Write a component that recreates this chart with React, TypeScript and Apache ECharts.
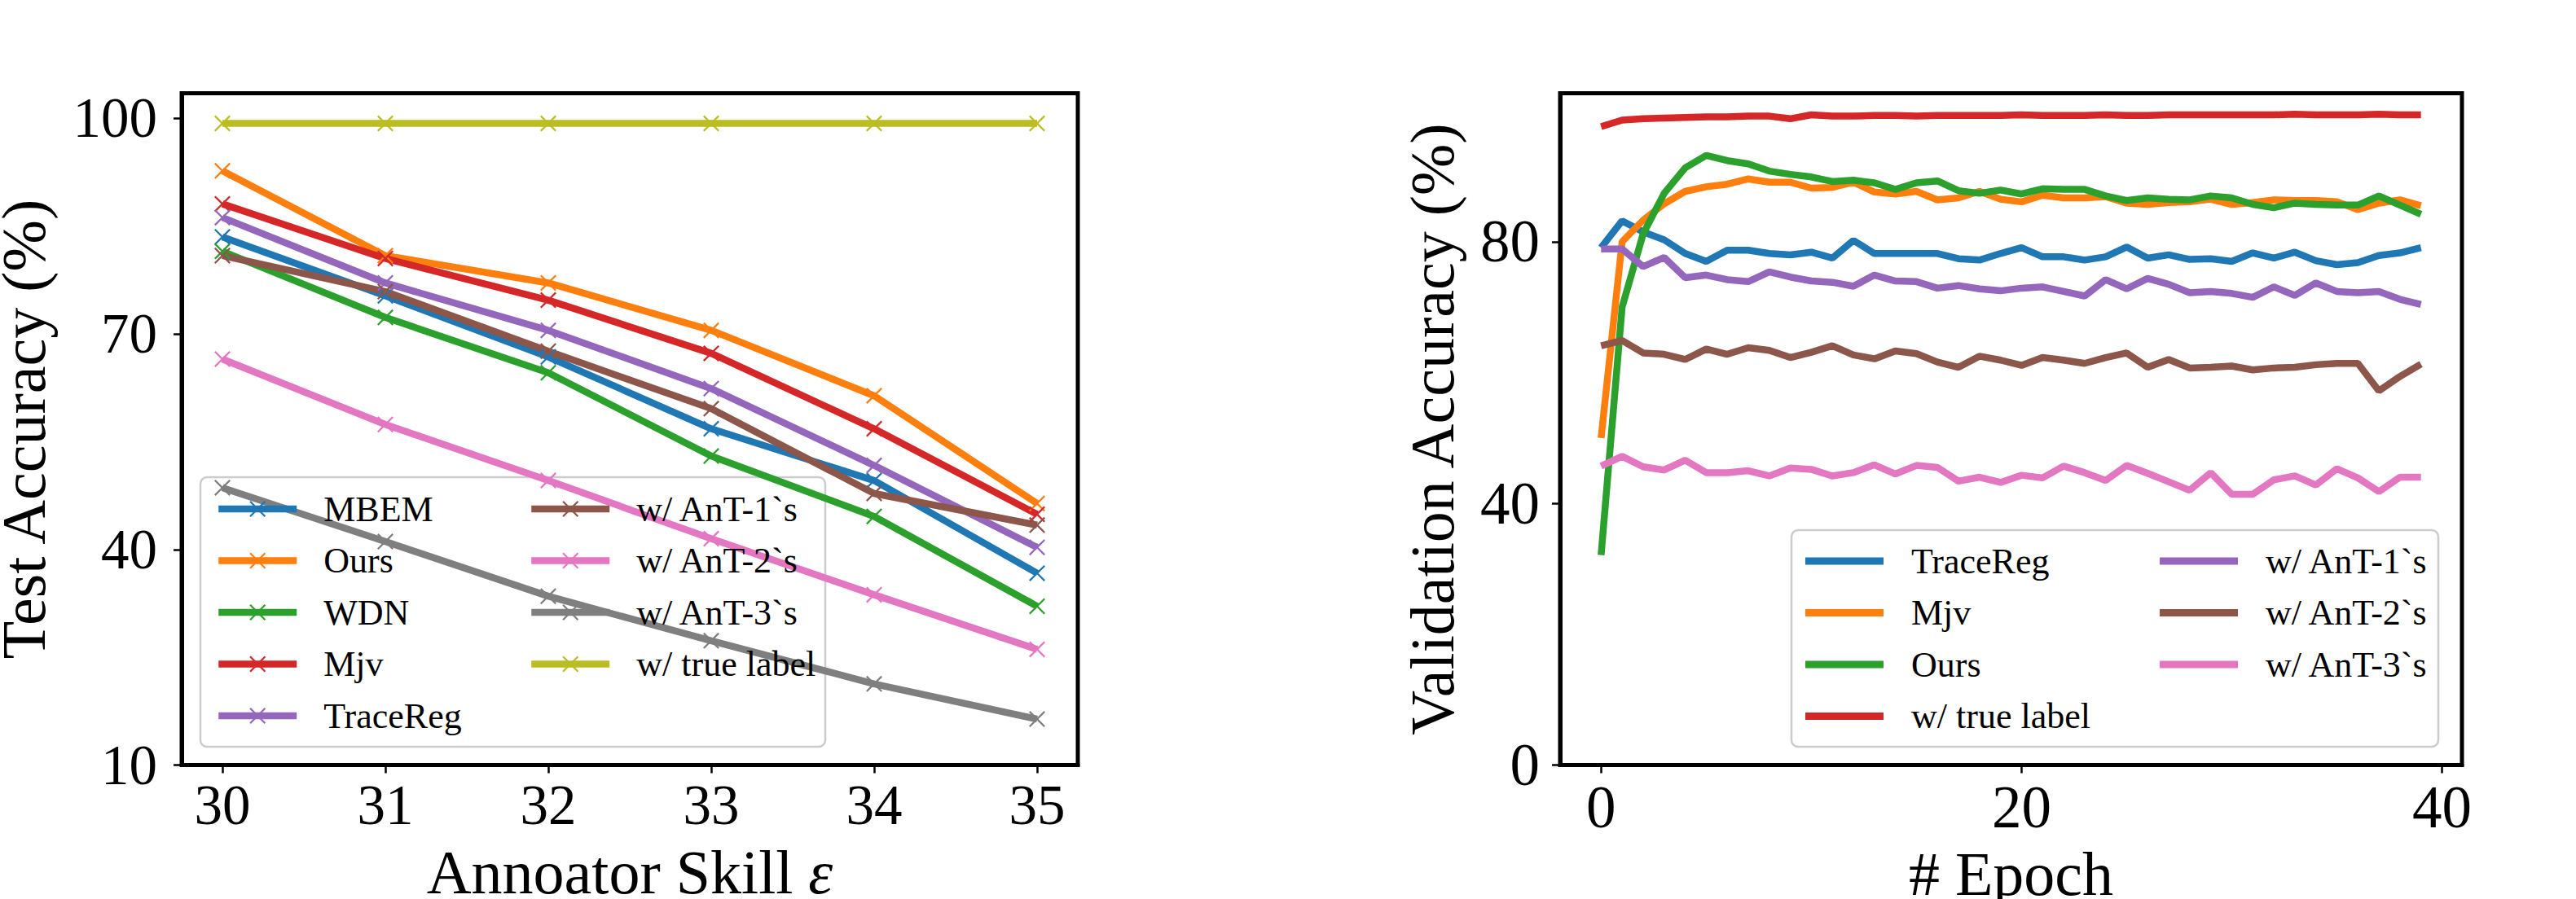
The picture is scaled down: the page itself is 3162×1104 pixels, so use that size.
import React, { useEffect, useRef } from "react";
import * as echarts from "echarts";

const FONT = "Liberation Serif";

// ---------- Left panel: Test accuracy vs annotator skill ----------
const skills = [30, 31, 32, 33, 34, 35];
const leftXTicks = [30, 31, 32, 33, 34, 35];
const leftYTicks = [10, 40, 70, 100];

const mbemL = [83.5, 75.3, 66.8, 56.8, 49.6, 36.7];
const oursL = [92.7, 80.9, 77.1, 70.5, 61.4, 46.4];
const wdnL = [81.5, 72.3, 64.6, 53.0, 44.6, 32.1];
const mjvL = [88.1, 80.5, 74.7, 67.3, 56.8, 44.9];
const traceRegL = [86.2, 77.1, 70.5, 62.4, 51.7, 40.3];
const ant1L = [80.9, 75.9, 67.6, 59.6, 47.8, 43.4];
const ant2L = [66.5, 57.4, 49.6, 41.5, 33.7, 26.1];
const ant3L = [48.6, 41.1, 33.5, 27.3, 21.3, 16.4];
const trueL = [99.3, 99.3, 99.3, 99.3, 99.3, 99.3];

// ---------- Right panel: Validation accuracy vs epoch ----------
const epochs = Array.from({ length: 40 }, (_, i) => i);
const rightXTicks = [0, 20, 40];
const rightYTicks = [0, 40, 80];

const traceRegR = [79.1, 83.2, 81.5, 80.3, 78.2, 77.0, 78.7, 78.7, 78.2, 78.0, 78.4, 77.5, 80.2, 78.2, 78.2, 78.2, 78.2, 77.4, 77.2, 78.2, 79.1, 77.7, 77.7, 77.2, 77.7, 79.2, 77.5, 78.0, 77.3, 77.4, 77.0, 78.3, 77.5, 78.4, 77.1, 76.5, 76.8, 77.9, 78.3, 79.1];
const mjvR = [50.0, 80.0, 83.3, 85.8, 87.7, 88.4, 88.8, 89.6, 89.1, 89.1, 88.2, 88.3, 89.1, 87.6, 87.3, 87.7, 86.4, 86.7, 87.7, 86.5, 86.1, 87.1, 86.7, 86.7, 86.9, 85.9, 85.7, 86.0, 86.1, 86.5, 85.7, 86.0, 86.4, 86.3, 86.3, 86.1, 84.9, 85.9, 86.4, 85.5];
const oursR = [32.1, 70.0, 81.2, 87.4, 91.3, 93.2, 92.4, 91.9, 90.8, 90.3, 89.9, 89.2, 89.4, 89.0, 88.0, 89.0, 89.3, 87.8, 87.4, 87.9, 87.3, 88.1, 88.0, 88.0, 87.0, 86.3, 86.7, 86.5, 86.4, 87.0, 86.7, 85.7, 85.2, 85.9, 85.7, 85.6, 85.6, 87.0, 85.6, 84.2];
const trueR = [97.6, 98.6, 98.8, 98.9, 99.0, 99.1, 99.1, 99.2, 99.2, 98.8, 99.4, 99.2, 99.2, 99.3, 99.3, 99.2, 99.3, 99.3, 99.3, 99.3, 99.4, 99.3, 99.3, 99.3, 99.4, 99.3, 99.3, 99.4, 99.4, 99.4, 99.4, 99.4, 99.4, 99.5, 99.4, 99.4, 99.4, 99.5, 99.4, 99.4];
const ant1R = [78.9, 78.9, 76.2, 77.6, 74.5, 74.9, 74.2, 73.9, 75.4, 74.6, 74.0, 73.8, 73.2, 74.9, 74.0, 73.9, 72.9, 73.3, 72.8, 72.5, 72.9, 73.1, 72.4, 71.7, 74.2, 72.8, 74.4, 73.5, 72.2, 72.4, 72.1, 71.5, 73.1, 71.8, 73.7, 72.4, 72.2, 72.4, 71.2, 70.4];
const ant2R = [64.1, 64.9, 63.0, 62.8, 62.0, 63.6, 62.8, 63.8, 63.4, 62.3, 63.1, 64.1, 62.7, 62.1, 63.3, 62.9, 61.6, 60.8, 62.5, 61.9, 61.1, 62.3, 61.9, 61.4, 62.3, 63.0, 60.8, 62.0, 60.7, 60.8, 61.0, 60.4, 60.7, 60.8, 61.2, 61.4, 61.4, 57.2, 59.4, 61.3];
const ant3R = [45.7, 47.2, 45.6, 45.1, 46.6, 44.7, 44.7, 45.0, 44.2, 45.4, 45.2, 44.2, 44.7, 45.9, 44.5, 45.8, 45.5, 43.4, 44.0, 43.2, 44.3, 43.9, 45.7, 44.7, 43.5, 45.8, 44.6, 43.3, 42.0, 44.7, 41.4, 41.4, 43.6, 44.2, 42.8, 45.3, 43.9, 41.8, 44.0, 44.0];

const C = {
  blue: "#1f77b4",
  orange: "#ff7f0e",
  green: "#2ca02c",
  red: "#d62728",
  purple: "#9467bd",
  brown: "#8c564b",
  pink: "#e377c2",
  gray: "#7f7f7f",
  olive: "#bcbd22",
};

const X_MARK =
  "path://M0,0.8L0.8,0L5,4.2L9.2,0L10,0.8L5.8,5L10,9.2L9.2,10L5,5.8L0.8,10L0,9.2L4.2,5Z";

const LW = 8.5;

const leftSeries = [
  { name: "MBEM", color: C.blue, values: mbemL },
  { name: "Ours", color: C.orange, values: oursL },
  { name: "WDN", color: C.green, values: wdnL },
  { name: "Mjv", color: C.red, values: mjvL },
  { name: "TraceReg", color: C.purple, values: traceRegL },
  { name: "w/ AnT-1`s", color: C.brown, values: ant1L },
  { name: "w/ AnT-2`s", color: C.pink, values: ant2L },
  { name: "w/ AnT-3`s", color: C.gray, values: ant3L },
  { name: "w/ true label", color: C.olive, values: trueL },
];

const rightSeries = [
  { name: "TraceReg", color: C.blue, values: traceRegR },
  { name: "Mjv", color: C.orange, values: mjvR },
  { name: "Ours", color: C.green, values: oursR },
  { name: "w/ true label", color: C.red, values: trueR },
  { name: "w/ AnT-1`s", color: C.purple, values: ant1R },
  { name: "w/ AnT-2`s", color: C.brown, values: ant2R },
  { name: "w/ AnT-3`s", color: C.pink, values: ant3R },
];

function axisCommon(ticks: number[], fontSize: number, margin: number) {
  return {
    axisLine: { show: true, onZero: false, lineStyle: { color: "#000", width: 5 } },
    axisTick: {
      show: true,
      length: 10,
      customValues: ticks,
      lineStyle: { color: "#000", width: 2.5 },
    },
    axisLabel: {
      customValues: ticks,
      fontSize,
      fontFamily: FONT,
      color: "#000",
      margin,
    },
    splitLine: { show: false },
  };
}

const nameStyle = {
  fontSize: 76,
  fontFamily: FONT,
  color: "#000",
  rich: {
    e: { fontSize: 76, fontFamily: FONT, fontStyle: "italic", color: "#000" },
  },
};

const legendText = {
  fontFamily: FONT,
  fontSize: 44,
  lineHeight: 44,
  color: "#000",
};

function leftLegend(items: typeof leftSeries, left: number) {
  return {
    orient: "vertical",
    left,
    top: 598,
    itemWidth: 96,
    itemHeight: 25,
    itemGap: 19.5,
    selectedMode: false,
    textStyle: { ...legendText, padding: [0, 0, 0, 28] },
    lineStyle: { width: LW },
    data: items.map((s) => ({
      name: s.name,
      textStyle: { ...legendText, padding: [0, 0, 0, 28] },
      itemStyle: { color: s.color, borderWidth: 0 },
      lineStyle: { color: s.color, width: LW },
    })),
  };
}

function rightLegend(items: typeof rightSeries, left: number) {
  return {
    orient: "vertical",
    left,
    top: 662,
    icon: "rect",
    itemWidth: 96,
    itemHeight: 9,
    itemGap: 19.5,
    selectedMode: false,
    textStyle: { ...legendText, padding: [0, 0, 0, 29] },
    data: items.map((s) => ({
      name: s.name,
      textStyle: { ...legendText, padding: [0, 0, 0, 29] },
      itemStyle: { color: s.color, borderWidth: 0 },
    })),
  };
}

const option = {
  animation: false,
  backgroundColor: "#fff",
  textStyle: { fontFamily: FONT, color: "#000" },
  grid: [
    {
      left: 223,
      top: 114.5,
      width: 1100,
      height: 825,
      show: true,
      borderColor: "#000",
      borderWidth: 5,
      backgroundColor: "transparent",
      outerBoundsMode: "none",
      containLabel: false,
    },
    {
      left: 1915,
      top: 114.5,
      width: 1107,
      height: 825,
      show: true,
      borderColor: "#000",
      borderWidth: 5,
      backgroundColor: "transparent",
      outerBoundsMode: "none",
      containLabel: false,
    },
  ],
  xAxis: [
    {
      type: "value",
      gridIndex: 0,
      min: 29.75,
      max: 35.25,
      ...axisCommon(leftXTicks, 69, 15),
      name: "Annoator Skill {e|ε}",
      nameLocation: "middle",
      nameGap: 93,
      nameTextStyle: nameStyle,
    },
    {
      type: "value",
      gridIndex: 1,
      min: -1.95,
      max: 40.95,
      ...axisCommon(rightXTicks, 73, 15),
      name: "# Epoch",
      nameLocation: "middle",
      nameGap: 95,
      nameTextStyle: nameStyle,
    },
  ],
  yAxis: [
    {
      type: "value",
      gridIndex: 0,
      min: 10,
      max: 103.5,
      ...axisCommon(leftYTicks, 69, 30),
      name: "Test Accuracy (%)",
      nameLocation: "middle",
      nameGap: 156,
      nameTextStyle: nameStyle,
    },
    {
      type: "value",
      gridIndex: 1,
      min: 0,
      max: 102.7,
      ...axisCommon(rightYTicks, 73, 25),
      name: "Validation Accuracy (%)",
      nameLocation: "middle",
      nameGap: 119,
      nameTextStyle: nameStyle,
    },
  ],
  legend: [
    leftLegend(leftSeries.slice(0, 5), 259),
    leftLegend(leftSeries.slice(5), 643),
    rightLegend(rightSeries.slice(0, 4), 2211),
    rightLegend(rightSeries.slice(4), 2646),
  ],
  graphic: [
    {
      type: "rect",
      z: 3,
      shape: { x: 246, y: 586, width: 767, height: 331, r: 8 },
      style: { fill: "rgba(255,255,255,0.8)", stroke: "#cccccc", lineWidth: 2.5 },
    },
    {
      type: "rect",
      z: 3,
      shape: { x: 2199, y: 651, width: 794, height: 266, r: 8 },
      style: { fill: "rgba(255,255,255,0.8)", stroke: "#cccccc", lineWidth: 2.5 },
    },
  ],
  series: [
    ...leftSeries.map((s) => ({
      name: s.name,
      type: "line",
      xAxisIndex: 0,
      yAxisIndex: 0,
      data: skills.map((x, i) => [x, s.values[i]]),
      symbol: X_MARK,
      symbolSize: 20,
      showSymbol: true,
      color: s.color,
      itemStyle: { color: s.color, borderWidth: 0 },
      lineStyle: { color: s.color, width: LW },
      emphasis: { disabled: true },
    })),
    ...rightSeries.map((s) => ({
      name: s.name,
      type: "line",
      xAxisIndex: 1,
      yAxisIndex: 1,
      data: epochs.map((x, i) => [x, s.values[i]]),
      symbol: "none",
      showSymbol: false,
      color: s.color,
      itemStyle: { color: s.color },
      lineStyle: { color: s.color, width: LW },
      emphasis: { disabled: true },
    })),
  ],
};

export default function App() {
  const ref = useRef<HTMLDivElement>(null);
  useEffect(() => {
    const chart = echarts.init(ref.current!, null, { renderer: "svg" });
    chart.setOption(option as any);
    return () => chart.dispose();
  }, []);
  return (
    <div
      ref={ref}
      style={{
        position: "fixed",
        left: 0,
        top: 0,
        width: 3162,
        height: 1104,
        background: "#fff",
      }}
    />
  );
}
